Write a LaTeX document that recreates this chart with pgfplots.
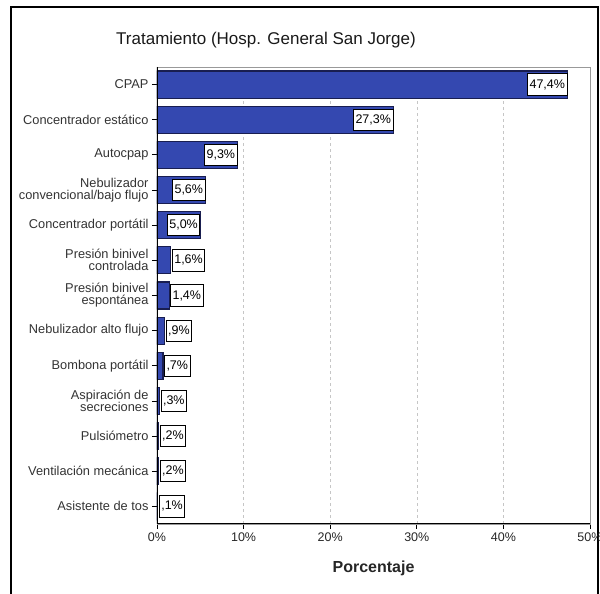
\documentclass[border=0pt]{standalone}
\usepackage{fontspec}
\setmainfont{Liberation Sans}
\usepackage{pgfplots}
\pgfplotsset{compat=1.18}
\definecolor{barblue}{RGB}{52,72,176}
\definecolor{baredge}{RGB}{25,30,80}
\begin{document}
\begin{tikzpicture}[x=1pt,y=1pt]
\path[use as bounding box] (0,0) rectangle (600,594);
\draw[line width=2pt] (11,0) -- (11,587) -- (598,587) -- (598,0);
\node[font=\fontsize{17}{19}\selectfont, text=black!90] at (266,554) {Tratamiento (Hosp. General San Jorge)};
\begin{axis}[
    at={(157pt,70pt)}, anchor=south west,
    scale only axis, width=433pt, height=457pt,
    xmin=0, xmax=50, ymin=-0.5, ymax=12.5,
    xbar, bar width=0.77, bar shift=0pt,
    axis line style={gray!80, line width=0.8pt},
    xtick={0,10,20,30,40,50},
    xticklabel={\pgfmathprintnumber{\tick}\%},
    ytick={0,...,12},
    yticklabels={Asistente de tos, Ventilación mecánica, Pulsiómetro,
        {Aspiración de\\secreciones}, Bombona portátil, Nebulizador alto flujo,
        {Presión binivel\\espontánea}, {Presión binivel\\controlada},
        Concentrador portátil, {Nebulizador\\convencional/bajo flujo},
        Autocpap, Concentrador estático, CPAP},
    yticklabel style={align=right, font=\fontsize{12.8}{12}\selectfont, text=black!80},
    xticklabel style={font=\fontsize{12.5}{12}\selectfont, text=black!85},
    /pgf/number format/assume math mode=true,
    tick align=outside, xtick pos=bottom, ytick pos=left,
    major tick length=5pt,
    tick style={black, line width=0.8pt},
    xmajorgrids=true,
    grid style={dashed, gray!45, line width=0.6pt},
    xlabel={Porcentaje},
    every axis x label/.style={at={(axis description cs:0.5,0)}, anchor=center, yshift=-44pt,
        font=\fontsize{16}{18}\selectfont\bfseries, text=black!85},
    point meta=explicit symbolic,
    nodes near coords,
    every node near coord/.append style={font=\fontsize{12.5}{12}\selectfont, fill=white,
        draw=black, line width=0.9pt, inner xsep=2pt, inner ysep=5.5pt, text=black},
]
\addplot[fill=barblue, draw=baredge, line width=1.2pt,
    every node near coord/.append style={anchor=east}]
    coordinates {
    (47.4,12) [47,4\%]
    (27.3,11) [27,3\%]
    (9.3,10)  [9,3\%]
    (5.6,9)   [5,6\%]
    (5.0,8)   [5,0\%]
    };
\addplot[fill=barblue, draw=baredge, line width=1.2pt,
    every node near coord/.append style={anchor=west, xshift=1pt}]
    coordinates {
    (1.6,7) [1,6\%]
    (1.4,6) [1,4\%]
    (0.9,5) [,9\%]
    (0.7,4) [,7\%]
    (0.3,3) [,3\%]
    (0.2,2) [,2\%]
    (0.2,1) [,2\%]
    (0.1,0) [,1\%]
    };
\draw[black, line width=1.2pt] (rel axis cs:0,1) -- (rel axis cs:0,0) -- (rel axis cs:1,0);
\end{axis}
\end{tikzpicture}
\end{document}
